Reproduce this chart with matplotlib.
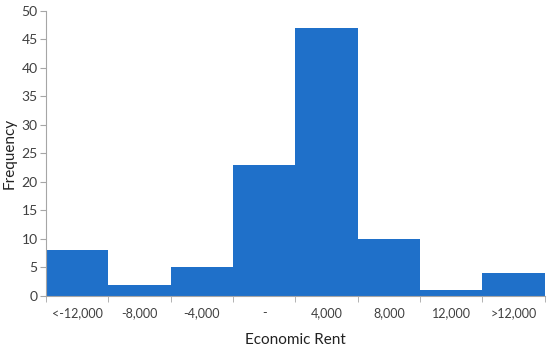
import numpy as np
import matplotlib.pyplot as plt

categories = ['<-12,000', '-8,000', '-4,000', '-', '4,000', '8,000', '12,000', '>12,000']
frequency = [8, 2, 5, 23, 47, 10, 1, 4]

plt.rcParams['font.family'] = ['Lato', 'DejaVu Sans']

fig = plt.figure(figsize=(5.5, 3.49), dpi=100)
ax = fig.add_axes([0.0836, 0.152, 0.907, 0.817])

x = np.arange(len(categories))
ax.bar(x, frequency, width=1.0, color='#1F70C9', align='center')

ax.set_xlim(-0.5, len(categories) - 0.5)
ax.set_ylim(0, 50)
ax.set_yticks(np.arange(0, 51, 5))
ax.set_xticks(x)
ax.set_xticklabels(categories)
ax.set_xticks(np.arange(-0.5, len(categories)), minor=True)
ax.tick_params(axis='x', which='major', length=0, labelsize=9, colors='#404040', pad=8)
ax.tick_params(axis='x', which='minor', length=4, color='#a6a6a6')
ax.tick_params(axis='y', length=4, color='#a6a6a6', labelsize=10, labelcolor='#404040', pad=2)

for s in ['top', 'right']:
    ax.spines[s].set_visible(False)
for s in ['left', 'bottom']:
    ax.spines[s].set_color('#a6a6a6')

ax.set_xlabel('Economic Rent', fontsize=11, color='#222222', labelpad=10)
ax.set_ylabel('Frequency', fontsize=11, color='#222222')
ax.yaxis.set_label_coords(-0.058, 0.5)

fig.savefig('out.png', dpi=100)
